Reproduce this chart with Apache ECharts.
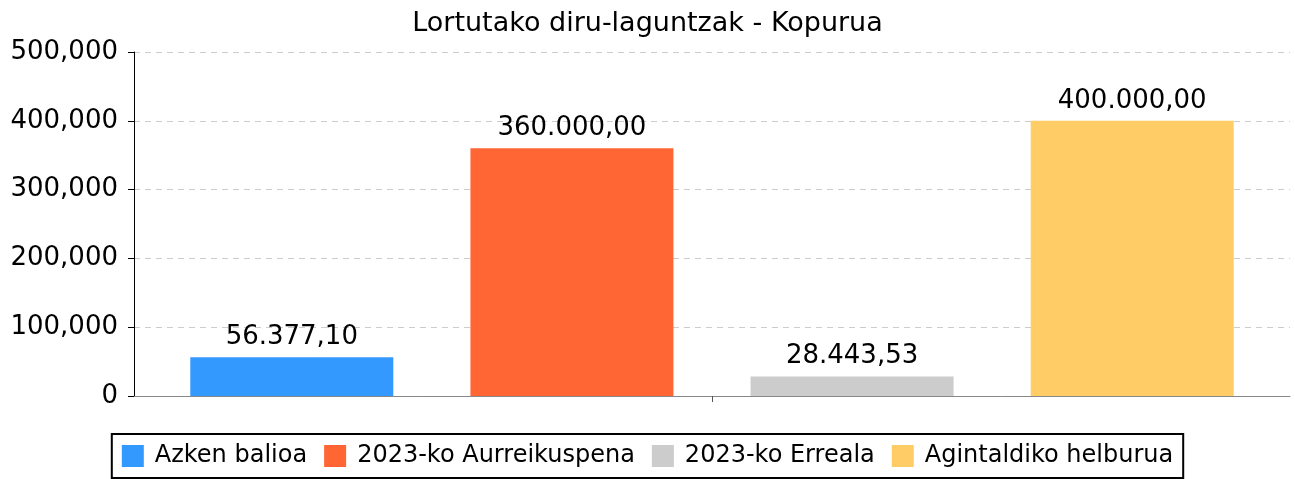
<!DOCTYPE html>
<html>
<head>
<meta charset="utf-8">
<script src="https://cdn.jsdelivr.net/npm/echarts@6/dist/echarts.min.js"></script>
<style>
  html, body { margin: 0; padding: 0; background: #fff; }
  #main { width: 1295px; height: 479px; }
</style>
</head>
<body>
<div id="main"></div>
<script>
// chart data
var seriesNames = ['Azken balioa', '2023-ko Aurreikuspena', '2023-ko Erreala', 'Agintaldiko helburua'];
var seriesValues = [56377.10, 360000, 28443.53, 400000];
var seriesColors = ['#3399FF', '#FF6633', '#CCCCCC', '#FFCC66'];
var categories = [''];

function fmtLabel(v) {
    var parts = v.toFixed(2).split('.');
    var intPart = parts[0].replace(/\B(?=(\d{3})+(?!\d))/g, '.');
    return intPart + ',' + parts[1];
}

var chartDom = document.getElementById('main');
var myChart = echarts.init(chartDom);

var series = seriesNames.map(function (name, i) {
    return {
        name: name,
        type: 'bar',
        data: [seriesValues[i]],
        barWidth: 203,
        barGap: '38%',
        itemStyle: { color: seriesColors[i] },
        label: {
            show: true,
            position: 'top',
            distance: 7,
            color: '#000',
            fontSize: 26,
            fontFamily: 'DejaVu Sans',
            formatter: function (p) { return fmtLabel(p.value); }
        }
    };
});

var option = {
    animation: false,
    textStyle: { fontFamily: 'DejaVu Sans' },
    title: {
        text: 'Lortutako diru-laguntzak - Kopurua',
        left: 'center',
        top: 5,
        textStyle: { fontSize: 27, fontWeight: 'normal', color: '#000', fontFamily: 'DejaVu Sans' }
    },
    legend: {
        bottom: 1,
        left: 'center',
        itemWidth: 22,
        itemHeight: 22,
        itemGap: 17,
        borderColor: '#000',
        borderWidth: 2,
        padding: [10, 10],
        icon: 'rect',
        textStyle: { fontSize: 24, color: '#000', fontFamily: 'DejaVu Sans', padding: [0, 0, 0, 6] },
        data: seriesNames
    },
    grid: {
        left: 134,
        right: 5,
        top: 52,
        bottom: 83,
        containLabel: false
    },
    xAxis: {
        type: 'category',
        data: categories,
        axisLine: { lineStyle: { color: '#888', width: 1 } },
        axisTick: { show: true, alignWithLabel: true, length: 6, lineStyle: { color: '#555' } },
        axisLabel: { show: false }
    },
    yAxis: {
        type: 'value',
        min: 0,
        max: 500000,
        interval: 100000,
        axisLine: { show: true, lineStyle: { color: '#000', width: 1 } },
        axisTick: { show: true, length: 6, lineStyle: { color: '#000' } },
        axisLabel: {
            color: '#000',
            fontSize: 26,
            margin: 16,
            fontFamily: 'DejaVu Sans',
            formatter: function (v) { return v.toLocaleString('en-US'); }
        },
        splitLine: { show: true, lineStyle: { color: '#ccc', type: [6, 5] } }
    },
    series: series
};

option && myChart.setOption(option);
</script>
</body>
</html>
